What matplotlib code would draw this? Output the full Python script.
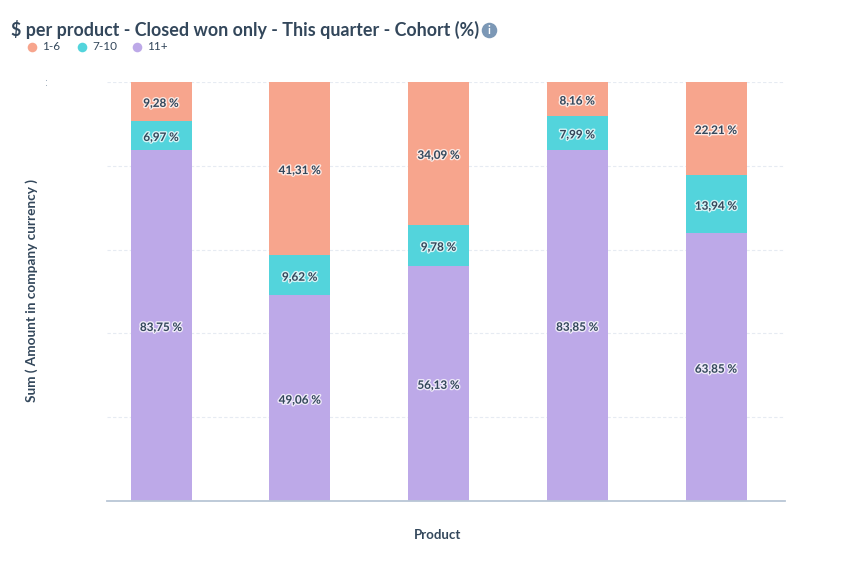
"""Stacked 100% bars of deal amount per product, split by cohort."""

import matplotlib

matplotlib.use("Agg")
import matplotlib.patheffects as pe
import matplotlib.pyplot as plt
import numpy as np

W, H = 856, 570
INK = "#33475b"

products = ["A", "B", "C", "D", "E"]
cohorts = ["11+", "7-10", "1-6"]
share_11_plus = [83.75, 49.06, 56.13, 83.85, 63.85]
share_7_10 = [6.97, 9.62, 9.78, 7.99, 13.94]
share_1_6 = [9.28, 41.31, 34.09, 8.16, 22.21]
legend_order = ["1-6", "7-10", "11+"]
COLORS = {"1-6": "#f7a58d", "7-10": "#53d4dc", "11+": "#bda9e8"}


def main() -> None:
    plt.rcParams["font.family"] = ["Lato", "DejaVu Sans"]
    fig = plt.figure(figsize=(W / 100, H / 100), dpi=100, facecolor="white")
    ax = fig.add_axes([107 / W, 1 - 501 / H, 678 / W, 419 / H])

    x = np.arange(len(products))
    bottom = np.zeros(len(products))
    series = [share_11_plus, share_7_10, share_1_6]
    for name, values in zip(cohorts, series):
        ax.bar(x, values, width=61 / 138.75, bottom=bottom, color=COLORS[name], zorder=2)
        for xi, b, v in zip(x, bottom, values):
            ax.annotate(
                f"{v:.2f} %".replace(".", ","),
                xy=(xi, b + v / 2),
                xytext=(0, -1.4),
                textcoords="offset points",
                ha="center",
                va="center",
                fontsize=8.4,
                fontweight="bold",
                color=INK,
                zorder=3,
                path_effects=[pe.withStroke(linewidth=2, foreground="white", alpha=0.75)],
            )
        bottom = bottom + np.array(values)

    ax.set_xlim(-54 / 138.75, 4 + 69 / 138.75)
    ax.set_ylim(0, 100)
    ax.set_xticks([])
    ax.set_yticks(np.arange(0, 101, 20))
    ax.tick_params(left=False, labelleft=False)
    ax.grid(axis="y", color="#e6ebf2", linewidth=0.8, linestyle=(0, (3, 2)), zorder=1)
    for side in ("top", "left", "right"):
        ax.spines[side].set_visible(False)
    ax.spines["bottom"].set_color("#b9c6d6")
    ax.spines["bottom"].set_linewidth(1.3)

    # pixel-positioned furniture around the plot
    overlay = fig.add_axes([0, 0, 1, 1], facecolor="none")
    overlay.set_xlim(0, W)
    overlay.set_ylim(H, 0)
    overlay.set_axis_off()

    overlay.text(
        11,
        29,
        "$ per product - Closed won only - This quarter - Cohort (%)",
        fontsize=12.9,
        fontweight="bold",
        color=INK,
        va="center",
    )
    overlay.scatter([489], [30], s=125, color="#7c98b6", linewidths=0)
    overlay.text(489, 30, "i", fontsize=8, fontweight="bold", color="white", ha="center", va="center")

    for px, label in zip([32, 82, 137], legend_order):
        overlay.scatter([px], [47], s=48, color=COLORS[label], linewidths=0)
        overlay.text(px + 10, 47, label, fontsize=8.5, color=INK, va="center")

    overlay.text(
        32,
        291,
        "Sum ( Amount in company currency )",
        rotation=90,
        fontsize=9.8,
        fontweight="bold",
        color=INK,
        ha="center",
        va="center",
    )
    overlay.text(438, 535, "Product", fontsize=9.5, fontweight="bold", color=INK, ha="center", va="center")
    overlay.scatter([46, 46], [80, 85], s=0.6, color="#99a8b8", linewidths=0)

    fig.savefig("out.png", dpi=100, facecolor="white")
    plt.close(fig)


if __name__ == "__main__":
    main()
